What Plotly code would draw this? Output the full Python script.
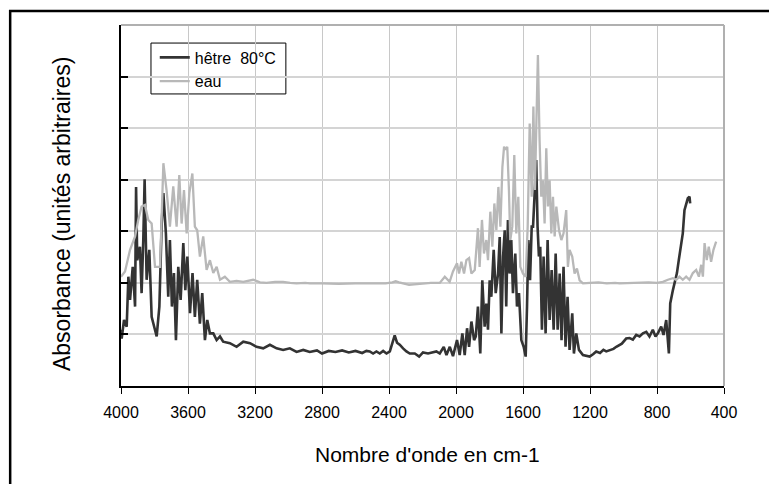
import plotly.graph_objects as go

# Wavenumbers (cm-1) and absorbance (arbitrary units)
hetre_w = [4000, 3996, 3982, 3966, 3956, 3946, 3930, 3916, 3910, 3903, 3887, 3877, 3867, 3859, 3847, 3831,
           3817, 3801, 3787, 3771, 3757, 3747, 3732, 3718, 3708, 3696, 3684, 3672, 3658, 3644, 3628, 3616,
           3604, 3588, 3573, 3559, 3545, 3529, 3515, 3499, 3485, 3469, 3449, 3429, 3409, 3390, 3350, 3310,
           3270, 3230, 3191, 3151, 3111, 3071, 3032, 2992, 2952, 2912, 2873, 2830, 2800, 2760, 2720, 2680,
           2640, 2600, 2560, 2535, 2515, 2495, 2475, 2455, 2435, 2415, 2395, 2380, 2366, 2352, 2336, 2316,
           2296, 2276, 2246, 2220, 2197, 2167, 2137, 2117, 2097, 2073, 2057, 2037, 2018, 1994, 1978, 1962,
           1948, 1934, 1922, 1908, 1892, 1882, 1869, 1855, 1843, 1829, 1819, 1809, 1799, 1789, 1775, 1763,
           1749, 1739, 1729, 1719, 1709, 1700, 1690, 1680, 1670, 1660, 1646, 1636, 1624, 1610, 1596, 1584,
           1576, 1568, 1558, 1548, 1540, 1531, 1521, 1513, 1505, 1497, 1487, 1477, 1465, 1453, 1441, 1429,
           1417, 1405, 1393, 1381, 1370, 1358, 1346, 1334, 1322, 1306, 1296, 1282, 1266, 1242, 1202, 1180,
           1163, 1140, 1120, 1103, 1080, 1060, 1043, 1010, 984, 964, 944, 924, 904, 884, 864, 845, 825, 809,
           795, 775, 761, 745, 729, 721, 705, 695, 681, 670, 656, 646, 636, 626, 616, 606, 602]
hetre_a = [1.09, 0.92, 1.28, 1.15, 2.12, 1.67, 2.31, 1.54, 3.86, 2.44, 2.70, 1.80, 2.83, 4.01, 2.06, 2.64,
           1.34, 1.15, 0.96, 1.54, 3.15, 3.74, 2.96, 1.73, 2.83, 1.54, 2.19, 0.89, 2.31, 1.67, 2.77, 1.86,
           2.51, 1.41, 2.19, 1.34, 2.06, 1.21, 1.80, 0.89, 1.28, 1.02, 1.02, 0.89, 0.96, 0.86, 0.83, 0.76,
           0.86, 0.83, 0.76, 0.73, 0.80, 0.73, 0.70, 0.73, 0.66, 0.70, 0.66, 0.69, 0.63, 0.68, 0.66, 0.69,
           0.65, 0.68, 0.64, 0.68, 0.67, 0.63, 0.67, 0.63, 0.68, 0.63, 0.67, 0.83, 0.98, 0.84, 0.80, 0.73,
           0.67, 0.63, 0.63, 0.57, 0.65, 0.63, 0.65, 0.67, 0.63, 0.76, 0.60, 0.76, 0.58, 0.89, 0.60, 1.02,
           0.60, 1.12, 0.76, 1.25, 0.89, 0.96, 1.54, 0.63, 2.05, 1.15, 1.60, 1.09, 2.05, 1.73, 2.64, 1.80,
           2.18, 2.89, 1.02, 2.51, 3.02, 1.54, 3.22, 2.18, 2.83, 1.80, 2.57, 1.54, 1.80, 0.89, 0.76, 0.57,
           1.54, 2.83, 2.05, 3.09, 3.09, 3.73, 4.38, 3.09, 2.51, 2.70, 1.09, 2.51, 1.02, 2.83, 1.28, 2.25,
           1.09, 2.57, 1.09, 2.18, 0.89, 2.31, 0.76, 1.73, 0.70, 1.41, 0.63, 1.02, 0.70, 0.60, 0.57, 0.62,
           0.67, 0.64, 0.70, 0.67, 0.70, 0.72, 0.76, 0.82, 0.92, 0.93, 0.90, 0.99, 0.96, 1.02, 1.05, 0.96,
           1.09, 0.96, 1.02, 1.15, 0.99, 1.28, 0.63, 1.60, 1.86, 1.99, 2.19, 2.44, 2.70, 2.96, 3.41, 3.54,
           3.64, 3.67, 3.54]

eau_w = [4000, 3976, 3946, 3916, 3897, 3877, 3857, 3837, 3817, 3797, 3767, 3747, 3728, 3708, 3688, 3668,
         3652, 3638, 3624, 3608, 3592, 3574, 3559, 3545, 3529, 3509, 3489, 3469, 3449, 3429, 3409, 3380,
         3350, 3310, 3270, 3211, 3170, 3131, 3080, 3032, 2990, 2952, 2900, 2873, 2800, 2700, 2600, 2500,
         2420, 2380, 2360, 2340, 2300, 2280, 2250, 2200, 2150, 2097, 2067, 2038, 2018, 1994, 1982, 1968,
         1952, 1938, 1922, 1908, 1888, 1869, 1859, 1845, 1833, 1819, 1809, 1795, 1783, 1771, 1759, 1747,
         1735, 1723, 1713, 1704, 1694, 1684, 1676, 1664, 1652, 1640, 1628, 1616, 1600, 1584, 1572, 1560,
         1548, 1538, 1529, 1521, 1511, 1501, 1491, 1481, 1471, 1461, 1451, 1441, 1431, 1421, 1411, 1401,
         1385, 1371, 1358, 1342, 1332, 1322, 1306, 1292, 1278, 1262, 1242, 1200, 1150, 1100, 1050, 1024,
         950, 904, 850, 800, 765, 735, 705, 685, 666, 646, 626, 606, 586, 566, 550, 536, 526, 516, 503,
         491, 477, 463, 447]
eau_a = [2.12, 2.22, 2.64, 2.90, 3.22, 3.48, 3.51, 3.22, 3.15, 2.31, 2.31, 4.32, 3.80, 3.09, 3.87, 3.09,
         4.09, 3.15, 3.80, 2.96, 3.74, 4.12, 3.09, 3.02, 2.51, 2.90, 2.25, 2.44, 2.19, 2.31, 2.06, 2.12,
         2.02, 2.04, 2.02, 2.06, 2.01, 2.00, 2.02, 2.02, 2.00, 1.99, 2.00, 1.99, 1.99, 1.98, 1.99, 1.99,
         1.99, 2.01, 2.03, 2.01, 1.98, 1.96, 1.97, 1.99, 2.00, 2.00, 2.12, 2.02, 2.22, 2.38, 2.18, 2.41,
         2.18, 2.44, 2.48, 2.18, 2.25, 3.06, 2.31, 3.22, 2.57, 2.83, 2.44, 3.38, 2.70, 3.54, 3.02, 3.86,
         3.09, 4.25, 4.64, 4.58, 4.64, 3.80, 2.83, 3.09, 4.48, 2.96, 3.67, 2.31, 2.18, 2.12, 3.09, 5.09,
         3.67, 5.42, 3.80, 4.96, 6.42, 4.77, 3.67, 3.99, 3.15, 4.61, 3.48, 3.99, 2.96, 3.67, 2.90, 3.48,
         3.02, 2.83, 2.96, 3.41, 2.31, 2.64, 2.51, 2.18, 2.28, 2.05, 1.99, 2.00, 2.01, 1.99, 2.00, 1.99,
         2.00, 2.00, 2.01, 2.00, 2.02, 2.06, 2.09, 2.06, 2.12, 2.06, 2.12, 2.06, 2.19, 2.25, 2.12, 2.35,
         2.12, 2.77, 2.44, 2.70, 2.41, 2.64, 2.80]

x_ticks = [4000, 3600, 3200, 2800, 2400, 2000, 1600, 1200, 800, 400]
y_ticks = [0, 1, 2, 3, 4, 5, 6, 7]

FONT = "Liberation Sans, Arial, sans-serif"

fig = go.Figure()
fig.add_trace(go.Scatter(x=hetre_w, y=hetre_a, mode="lines", name="hêtre  80°C",
                         line=dict(color="#333333", width=2.6)))
fig.add_trace(go.Scatter(x=eau_w, y=eau_a, mode="lines", name="eau",
                         line=dict(color="#b8b8b8", width=2.3)))

fig.update_layout(
    width=769, height=484,
    margin=dict(l=121, r=44.5, t=25, b=98),
    paper_bgcolor="white", plot_bgcolor="white",
    font=dict(family=FONT, color="black"),
    showlegend=True,
    legend=dict(x=0.056, y=0.957, xanchor="left", yanchor="top",
                borderwidth=0, bgcolor="rgba(0,0,0,0)",
                font=dict(size=16, family=FONT), tracegroupgap=0),
    xaxis=dict(range=[4000, 400], tickvals=x_ticks, ticktext=[str(t) for t in x_ticks],
               showgrid=True, gridcolor="#c8c8c8", gridwidth=1,
               showline=True, linecolor="black", linewidth=1.5,
               ticks="outside", ticklen=6, tickcolor="black", tickwidth=1,
               ticklabelstandoff=5,
               tickfont=dict(size=16, family=FONT), zeroline=False),
    yaxis=dict(range=[0, 7], tickvals=y_ticks, showticklabels=False,
               showgrid=True, gridcolor="#d4d4d4", gridwidth=1.5,
               showline=True, linecolor="black", linewidth=1.5,
               ticks="inside", ticklen=7, tickcolor="black", tickwidth=1.5, zeroline=False),
    annotations=[
        dict(text="Nombre d'onde en cm-1", xref="paper", yref="paper", x=0.5087, y=-0.191,
             xanchor="center", yanchor="middle", showarrow=False, font=dict(size=21, family=FONT)),
        dict(text="Absorbance (unités arbitraires)", xref="paper", yref="paper", x=-0.0978, y=0.4765,
             xanchor="center", yanchor="middle", textangle=-90, showarrow=False,
             font=dict(size=23, family=FONT)),
    ],
)

# legend frame, top/right border of plot area (gray) and the outer black frame
fig.add_shape(type="rect", xref="paper", yref="paper", x0=0.0497, x1=0.2734, y0=0.950, y1=0.809,
              line=dict(color="black", width=1), fillcolor="white", layer="below")
fig.add_shape(type="line", xref="paper", yref="paper", x0=0, x1=1, y0=1, y1=1,
              line=dict(color="#b0b0b0", width=2))
fig.add_shape(type="line", xref="paper", yref="paper", x0=1, x1=1, y0=0, y1=1,
              line=dict(color="#b0b0b0", width=2))
fig.add_shape(type="rect", xref="paper", yref="paper", x0=-0.1838, x1=1.3, y0=1.0388, y1=-0.4,
              line=dict(color="black", width=2.5), layer="above")

fig.write_html("out.html")
